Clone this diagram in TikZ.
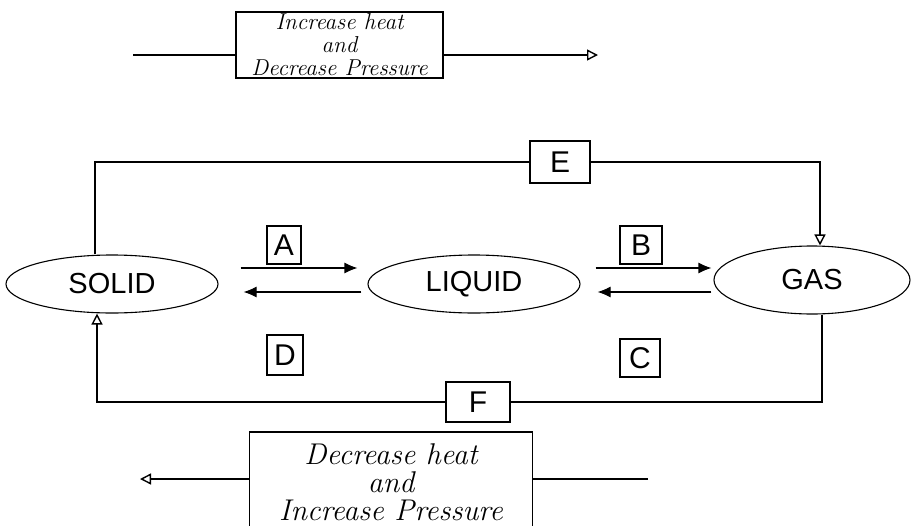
\documentclass[tikz,border=0pt]{standalone}
\usepackage{fontspec}
\newfontfamily\handsans{Liberation Sans}
\usetikzlibrary{arrows.meta,calc,shapes.geometric}
\begin{document}
\begin{tikzpicture}[x=1pt,y=-1pt,
  state/.style={draw,ellipse,line width=1.1pt,inner sep=0pt,font=\handsans\fontsize{29}{31}\selectfont},
  lbl/.style={draw,rectangle,line width=1.1pt,inner sep=0pt,font=\handsans\fontsize{30}{32}\selectfont},
  note/.style={draw,rectangle,line width=1.1pt,inner sep=0pt,align=center},
  conn/.style={line width=1.1pt},
  fill tip/.style={conn,-{Latex[length=13pt,width=11pt]}},
  open tip/.style={conn,-{Triangle[open,length=11pt,width=11pt,line width=1.4pt]}}]
\useasboundingbox (0,0) rectangle (912,525);
% states
\node[state,minimum width=212,minimum height=58] (solid) at (112,284) {SOLID};
\node[state,minimum width=212,minimum height=58] (liquid) at (474,284) {LIQUID};
\node[state,minimum width=196,minimum height=68] (gas) at (812,280) {GAS};
% letter boxes
\node[lbl,minimum width=34,minimum height=38] (A) at (284,245) {A};
\node[lbl,minimum width=42,minimum height=38] (B) at (641,245) {B};
\node[lbl,minimum width=40,minimum height=38] (C) at (640,358) {C};
\node[lbl,minimum width=36,minimum height=40] (D) at (285,355) {D};
\node[lbl,minimum width=60,minimum height=42] (E) at (560,162) {E};
\node[lbl,minimum width=64,minimum height=40] (F) at (478,402) {F};
% note boxes
\node[note,minimum width=207,minimum height=66,font=\itshape\fontsize{23}{23}\selectfont] (top) at (339.5,45) {Increase heat\\and\\Decrease Pressure};
\node[note,minimum width=283,minimum height=100,font=\itshape\fontsize{30}{28}\selectfont] (bot) at (391,482) {Decrease heat\\and\\Increase Pressure};
\coordinate (tl) at (133,55);
\coordinate (tr) at (598,55);
\coordinate (bl) at (140,479);
\coordinate (br) at (648,479);
% top arrow
\draw[conn] (tl) -- (tl -| top.west);
\draw[open tip] (top.east |- tr) -- (tr);
% bottom arrow
\draw[conn] (br) -- (br -| bot.east);
\draw[open tip] (bot.west |- bl) -- (bl);
% A / D arrows
\draw[fill tip] ($(solid.east)+(22,-16)$) -- ($(liquid.west)+(-10,-16)$);
\draw[fill tip] ($(liquid.west)+(-6,8)$) -- ($(solid.east)+(25,8)$);
% B / C arrows
\draw[fill tip] ($(liquid.east)+(15,-16)$) -- ($(gas.west)+(-2,-12)$);
\draw[fill tip] ($(gas.west)+(-2,12)$) -- ($(liquid.east)+(17,8)$);
% E loop
\draw[conn] ([xshift=-17pt]solid.north) |- (E.west);
\draw[open tip] (E.east) -| ([xshift=8pt]gas.north);
% F loop
\draw[conn] ([xshift=10pt]gas.south) |- (F.east);
\draw[open tip] (F.west) -| ([xshift=-15pt]solid.south);
\end{tikzpicture}
\end{document}
